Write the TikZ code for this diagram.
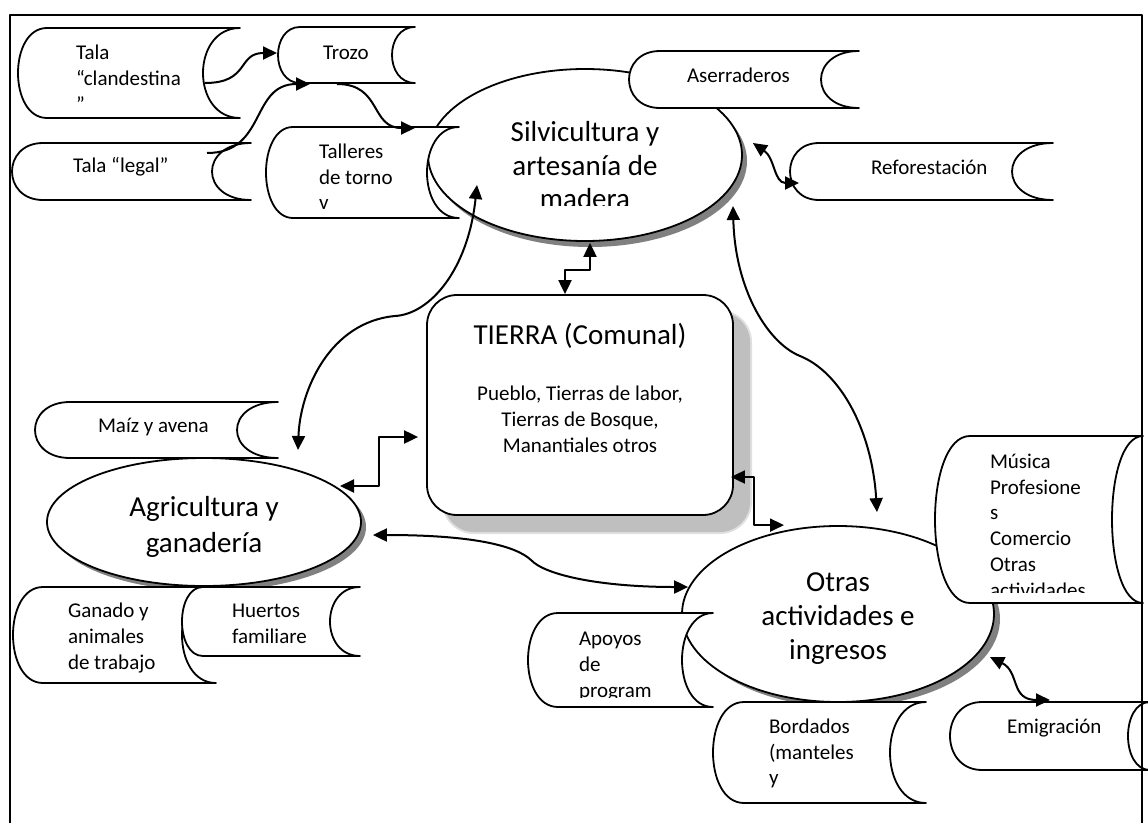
\documentclass[tikz,border=0pt]{standalone}
\usepackage{fontspec}
\setmainfont{Carlito}
\usetikzlibrary{arrows.meta,calc,shapes.geometric}

\tikzset{
  outline/.style={draw=black, line width=1.8pt, fill=white},
  smalltxt/.style={font=\fontsize{21}{25}\selectfont, inner sep=0pt, outer sep=0pt},
  bigtxt/.style={font=\fontsize{29}{35}\selectfont, inner sep=0pt, outer sep=0pt},
  bigtri/.tip={Triangle[length=14pt,width=13pt]},
  conn/.style={line width=2pt, -bigtri},
  biconn/.style={line width=2pt, bigtri-bigtri},
  ellshadow/.style={fill=black!50},
  boxshadow/.style={fill=black!25},
}

% stored-data box: name, left, top, right, bottom, left bulge, right hollow
\newcommand\databox[7]{%
  \path[outline] ({#2+#6},#3) -- (#4,#3)
    .. controls ({#4-1.3333*#7},#3) and ({#4-1.3333*#7},#5) .. (#4,#5)
    -- ({#2+#6},#5)
    .. controls ({#2-0.3333*#6},#5) and ({#2-0.3333*#6},#3) .. ({#2+#6},#3) -- cycle;
  \node[inner sep=0pt, outer sep=0pt, minimum width={(#4)-(#2)}, minimum height={(#5)-(#3)}]
    (#1) at ({0.5*(#2+#4)},{0.5*(#3+#5)}) {};
}
% text lines placed on their baselines
\newcommand\ltext[5]{\node[#1, anchor=base west] (#2) at (#3,#4) {#5};}
\newcommand\ctext[5]{\node[#1, anchor=base] (#2) at (#3,#4) {#5};}

\begin{document}
\begin{tikzpicture}[x=1pt,y=-1pt,line join=round]
\useasboundingbox (0,0) rectangle (1148,822);
\clip (0,0) rectangle (1148,822);

% central land block with a soft-edged shadow
\fill[black!12, rounded corners=32pt] (442,310) rectangle (752,534);
\fill[boxshadow, rounded corners=30pt] (444,312) rectangle (750,532);
\node[outline, rounded corners=30pt, minimum width=306pt, minimum height=220pt, inner sep=0pt] (tierra) at (580,405) {};

% activity ellipses
\fill[ellshadow] (590,161) ellipse [x radius=157pt, y radius=86pt];
\node[outline, ellipse, minimum width=314pt, minimum height=172pt, inner sep=0pt] (silv) at (585,155) {};
\fill[ellshadow] (209,527) ellipse [x radius=157pt, y radius=64pt];
\node[outline, ellipse, minimum width=314pt, minimum height=128pt, inner sep=0pt] (agri) at (204,522) {};
\fill[ellshadow] (844,619) ellipse [x radius=156pt, y radius=88pt];
\node[outline, ellipse, minimum width=312pt, minimum height=176pt, inner sep=0pt] (otras) at (838,614) {};

% stored-data boxes
\databox{tc}{18}{28}{240}{118}{29}{37}
\databox{trozo}{278}{27}{415}{83}{22}{23}
\databox{tl}{12}{143}{251}{200}{31}{39}
\databox{talleres}{266}{127}{459}{218}{27}{32}
\databox{aserr}{629}{51}{859}{108}{31}{38}
\databox{refor}{790}{143}{1053}{200}{29}{41}
\databox{maiz}{35}{402}{278}{458}{35}{41}
\databox{ganado}{13}{587}{216}{683}{30}{34}
\databox{huertos}{182}{587}{360}{656}{21}{30}
\databox{apoyos}{528}{613}{713}{707}{30}{31}
\databox{bordados}{713}{702}{926}{803}{31}{36}
\databox{musica}{935}{436}{1143}{603}{35}{31}
\databox{emig}{950}{702}{1150}{770}{32}{22}

% connectors
\draw[conn] ($(tc.center)+(76,10)$) .. controls +(45,0) and +(-40,0) .. ($(trozo.west)+(-1,-2)$);
\draw[conn] ($(tl.center)+(75.5,-18.5)$) .. controls +(60,0) and +(-60,0) .. ($(trozo.south west)+(32,1)$);
\draw[conn] ($(trozo.south)+(-9.5,1)$) .. controls +(45,0) and +(-45,0) .. ($(talleres.north)+(52.5,1)$);
\draw[biconn] ($(silv.east)+(10,-12)$) .. controls +(22,15) and +(-25,0) .. ($(refor.west)+(9,11.5)$);
\draw[biconn] ($(silv.south)+(5,1)$) -- ++(0,27) -| ($(tierra.north)+(-15,0)$);
\draw[biconn] ($(tierra.west)+(-8,32)$) -- ++(-39,0) |- ($(agri.center)+(136,-36)$);
\draw[biconn] ($(agri.east)+(11,13)$) .. controls (470,535) and (515,545) .. (531,560)
   .. controls (545,575) and (600,587) .. ($(otras.west)+(7,-27)$);
\draw[biconn] ($(silv.center)+(148,51)$) .. controls (735,290) and (768,343) .. (800,356)
   .. controls (840,372) and (872,430) .. ($(otras.north)+(39,-13)$);
\draw[biconn] ($(tierra.east)+(-3,72)$) -- ++(23,0) |- ($(otras.north)+(-54,0)$);
\draw[biconn] ($(otras.center)+(152,43)$) .. controls +(30,15) and +(-40,0) .. ($(emig.north)+(0,-2)$);
\draw[biconn] ($(silv.center)+(-108,30)$) .. controls (468,270) and (430,314) .. (395,316)
   .. controls (330,322) and (300,390) .. ($(agri.center)+(94,-72)$);

% labels
\ltext{smalltxt}{tc-1}{76}{59}{Tala}
\ltext{smalltxt}{tc-2}{76}{85}{“clandestina}
\ltext{smalltxt}{tc-3}{76}{111}{”}
\ltext{smalltxt}{trozo-1}{323}{59}{Trozo}
\ltext{smalltxt}{tl-1}{73}{172}{Tala “legal”}
\ltext{smalltxt}{talleres-1}{319}{158}{Talleres}
\ltext{smalltxt}{talleres-2}{319}{184}{de torno}
\ltext{smalltxt}{talleres-3}{319}{209}{v}
\ltext{smalltxt}{aserr-1}{687}{82}{Aserraderos}
\ltext{smalltxt}{refor-1}{871}{174}{Reforestación}
\begin{scope}
  \clip (430,100) rectangle (740,205);
  \ctext{bigtxt}{silv-1}{585}{141}{Silvicultura y}
  \ctext{bigtxt}{silv-2}{585}{175}{artesanía de}
  \ctext{bigtxt}{silv-3}{585}{208}{madera}
\end{scope}
\ctext{bigtxt}{tierra-1}{580}{344}{TIERRA (Comunal)}
\ctext{smalltxt}{tierra-2}{580}{400}{Pueblo, Tierras de labor,}
\ctext{smalltxt}{tierra-3}{580}{426}{Tierras de Bosque,}
\ctext{smalltxt}{tierra-4}{580}{452}{Manantiales otros}
\ltext{smalltxt}{maiz-1}{98}{432}{Maíz y avena}
\ctext{bigtxt}{agri-1}{204}{516}{Agricultura y}
\ctext{bigtxt}{agri-2}{204}{552}{ganadería}
\ltext{smalltxt}{ganado-1}{68}{617}{Ganado y}
\ltext{smalltxt}{ganado-2}{68}{643}{animales}
\ltext{smalltxt}{ganado-3}{68}{669}{de trabajo}
\ltext{smalltxt}{huertos-1}{232}{617}{Huertos}
\ltext{smalltxt}{huertos-2}{232}{643}{familiare}
\ctext{bigtxt}{otras-1}{838}{591}{Otras}
\ctext{bigtxt}{otras-2}{838}{625}{actividades e}
\ctext{bigtxt}{otras-3}{838}{659}{ingresos}
\begin{scope}
  \clip (960,440) rectangle (1110,592);
  \ltext{smalltxt}{musica-1}{990}{468}{Música}
  \ltext{smalltxt}{musica-2}{990}{494}{Profesione}
  \ltext{smalltxt}{musica-3}{990}{519}{s}
  \ltext{smalltxt}{musica-4}{990}{545}{Comercio}
  \ltext{smalltxt}{musica-5}{990}{571}{Otras}
  \ltext{smalltxt}{musica-6}{990}{597}{actividades}
\end{scope}
\begin{scope}
  \clip (550,615) rectangle (690,697);
  \ltext{smalltxt}{apoyos-1}{579}{645}{Apoyos}
  \ltext{smalltxt}{apoyos-2}{579}{671}{de}
  \ltext{smalltxt}{apoyos-3}{579}{697}{program}
\end{scope}
\ltext{smalltxt}{bordados-1}{769}{733}{Bordados}
\ltext{smalltxt}{bordados-2}{769}{759}{(manteles}
\ltext{smalltxt}{bordados-3}{769}{784}{y}
\ltext{smalltxt}{emig-1}{1007}{733}{Emigración}

% outer frame, open at the bottom
\draw[line width=2pt] (10,850) -- (10,15) -- (1142,15) -- (1142,850);
\end{tikzpicture}
\end{document}
